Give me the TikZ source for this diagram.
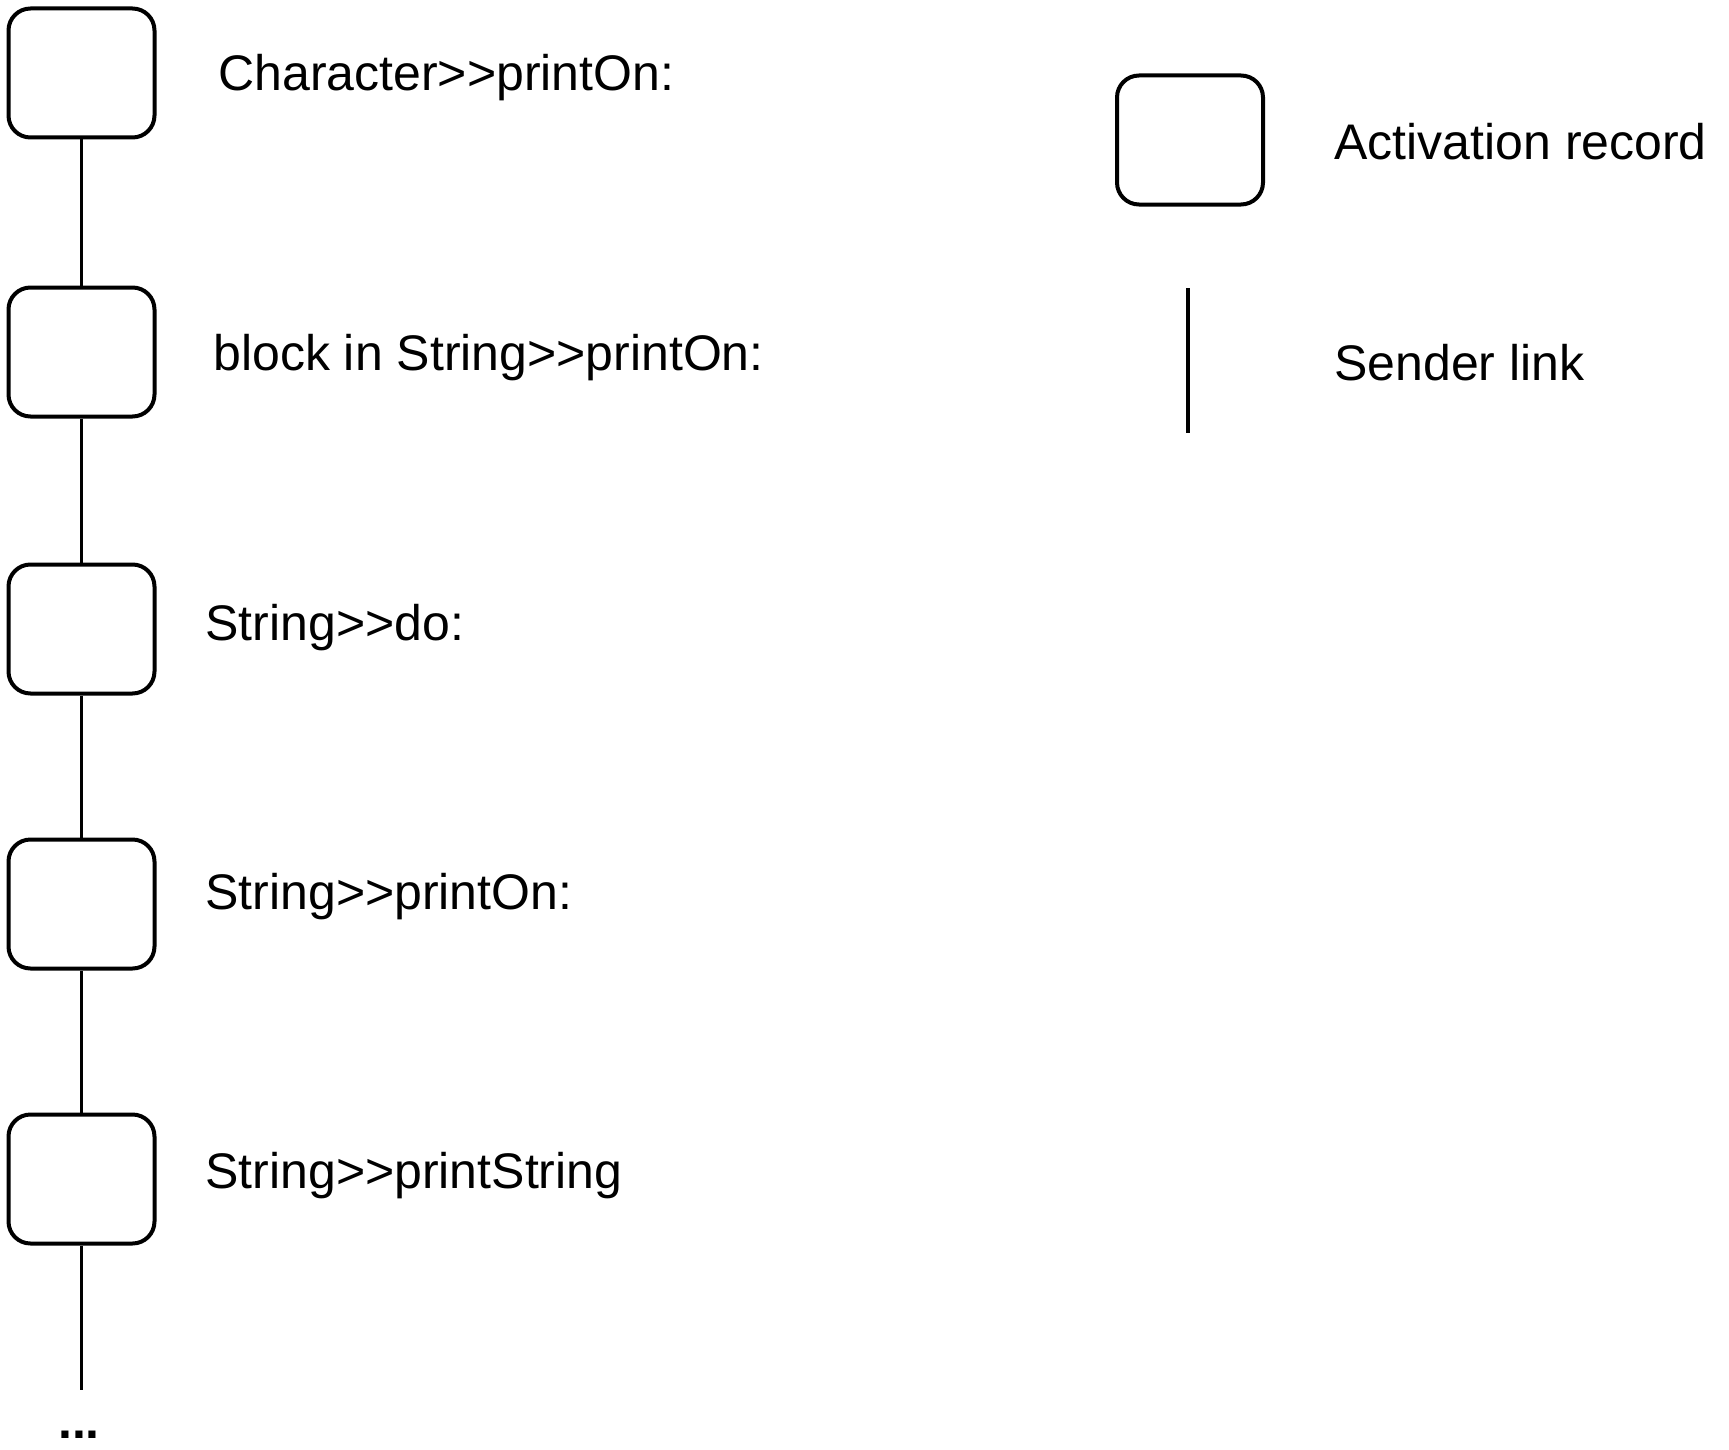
\documentclass[tikz,border=0pt]{standalone}
\usepackage{fontspec}
\setmainfont{Liberation Sans}
\begin{document}
\begin{tikzpicture}[x=0.5pt,y=-0.5pt,
  rec/.style={draw, line width=2pt, rounded corners=11pt, minimum width=73pt, minimum height=64.5pt, inner sep=0pt},
  link/.style={line width=1.8pt},
  lbl/.style={anchor=base west, inner sep=0pt, font=\fontsize{25}{30}\selectfont}]
\useasboundingbox (0,0) rectangle (1729,1450);
\node[rec] (b1) at (81.5,73) {};
\node[rec] (b2) at (81.5,352) {};
\node[rec] (b3) at (81.5,629) {};
\node[rec] (b4) at (81.5,904) {};
\node[rec] (b5) at (81.5,1179) {};
\coordinate (bend) at (81.5,1390);
\draw[link] (b1.south) -- (b2.north);
\draw[link] (b2.south) -- (b3.north);
\draw[link] (b3.south) -- (b4.north);
\draw[link] (b4.south) -- (b5.north);
\draw[link] (b5.south) -- (bend);
\node[anchor=base, inner sep=0pt, font=\fontsize{25}{30}\selectfont\bfseries] (dots) at (79,1438) {...};
\node[lbl] (t1) at (218,91) {Character>{}>printOn:};
\node[lbl] (t2) at (213,370) {block in String>{}>printOn:};
\node[lbl] (t3) at (205,640) {String>{}>do:};
\node[lbl] (t4) at (205,909) {String>{}>printOn:};
\node[lbl] (t5) at (205,1188) {String>{}>printString};
\node[rec] (lb) at (1190,140) {};
\node[lbl] (la) at (1334,159) {Activation record};
\coordinate (ls1) at (1188,288);
\coordinate (ls2) at (1188,433);
\draw[link] (ls1) -- (ls2);
\node[lbl] (ll) at (1334,380) {Sender link};
\end{tikzpicture}
\end{document}
